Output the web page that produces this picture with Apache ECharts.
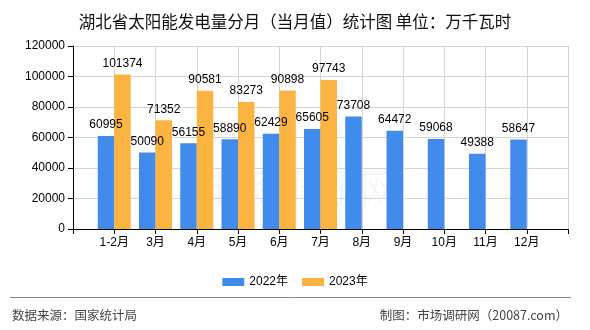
<!DOCTYPE html>
<html>
<head>
<meta charset="utf-8">
<script src="https://cdn.jsdelivr.net/npm/echarts@6/dist/echarts.min.js"></script>
<style>
  html, body { margin: 0; padding: 0; background: #fff; }
  #chart { width: 590px; height: 330px; }
</style>
</head>
<body>
<div id="chart"></div>
<script>
// Monthly solar power generation in Hubei, unit: 10k kWh
const months = ['1-2月', '3月', '4月', '5月', '6月', '7月', '8月', '9月', '10月', '11月', '12月'];
const values2022 = [60995, 50090, 56155, 58890, 62429, 65605, 73708, 64472, 59068, 49388, 58647];
const values2023 = [101374, 71352, 90581, 83273, 90898, 97743, null, null, null, null, null];
const yTicks = [0, 20000, 40000, 60000, 80000, 100000, 120000];

// Empty slots at both ends so months sit on the gridlines with half-slot padding
const pad = arr => [null].concat(arr, [null]);
const categories = [''].concat(months, ['']);

const CJK = '"Noto Sans CJK SC", sans-serif';
const NUM = '"Liberation Sans", "Noto Sans CJK SC", sans-serif';

const chart = echarts.init(document.getElementById('chart'), null, { renderer: 'canvas' });

const labelStyle = {
  show: true,
  position: 'top',
  distance: 5,
  color: '#000',
  fontSize: 12,
  fontFamily: NUM
};

chart.setOption({
  animation: false,
  backgroundColor: '#fff',
  title: {
    text: '湖北省太阳能发电量分月（当月值）统计图 单位：万千瓦时',
    left: 'center',
    top: 8,
    textStyle: { fontSize: 16.5, fontWeight: 'normal', color: '#111', fontFamily: CJK }
  },
  legend: {
    data: ['2022年', '2023年'],
    left: 'center',
    top: 271,
    icon: 'rect',
    itemWidth: 22,
    itemHeight: 8,
    itemGap: 14,
    textStyle: { fontSize: 12, color: '#000', fontFamily: NUM }
  },
  grid: { left: 73, right: 22, top: 46, bottom: 101 },
  xAxis: {
    type: 'category',
    data: categories,
    boundaryGap: false,
    axisLine: { lineStyle: { color: '#000', width: 1 } },
    axisTick: { show: true, length: 5, lineStyle: { color: '#000' } },
    axisLabel: { color: '#000', fontSize: 12, margin: 8, fontFamily: NUM, interval: 0 },
    splitLine: { show: true, lineStyle: { color: '#d4d4d4', width: 1 } }
  },
  yAxis: {
    type: 'value',
    min: yTicks[0],
    max: yTicks[yTicks.length - 1],
    interval: yTicks[1] - yTicks[0],
    axisLine: { show: true, lineStyle: { color: '#000', width: 1 } },
    axisTick: { show: true, length: 5, lineStyle: { color: '#000' } },
    axisLabel: {
      color: '#000', fontSize: 12, margin: 8, fontFamily: NUM,
      formatter: v => String(v)
    },
    splitLine: { show: true, lineStyle: { color: '#d4d4d4', width: 1 } }
  },
  graphic: [
    {
      type: 'text',
      left: 200, top: 168,
      silent: true,
      style: { text: '市场调研网', fontSize: 40, fill: 'rgba(0,0,0,0.035)', fontFamily: CJK }
    },
    {
      type: 'line',
      shape: { x1: 10, y1: 297.5, x2: 571, y2: 297.5 },
      style: { stroke: '#888', lineWidth: 1 }
    },
    {
      type: 'text',
      left: 12, top: 309,
      style: { text: '数据来源：国家统计局', fontSize: 12.5, fill: '#444', fontFamily: CJK }
    },
    {
      type: 'text',
      right: 22, top: 309,
      style: { text: '制图：市场调研网（20087.com）', fontSize: 12.5, fill: '#444', fontFamily: CJK }
    }
  ],
  series: [
    {
      name: '2022年',
      type: 'bar',
      data: pad(values2022),
      barWidth: 16.5,
      barGap: '0%',
      itemStyle: { color: '#418bec' },
      label: labelStyle
    },
    {
      name: '2023年',
      type: 'bar',
      data: pad(values2023),
      barWidth: 16.5,
      barGap: '0%',
      itemStyle: { color: '#fbb441' },
      label: labelStyle
    }
  ]
});
</script>
</body>
</html>
